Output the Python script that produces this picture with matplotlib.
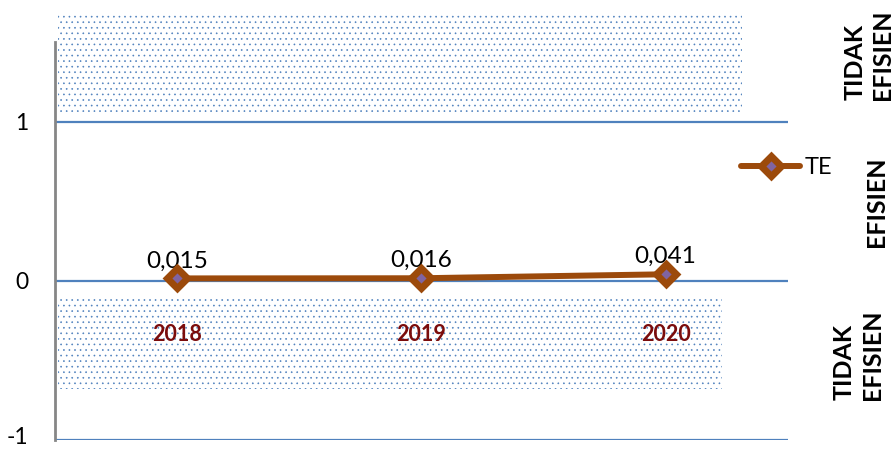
import matplotlib.pyplot as plt
from matplotlib.patches import Rectangle
from matplotlib.transforms import offset_copy

plt.rcParams['font.family'] = ['Lato', 'DejaVu Sans']
plt.rcParams['hatch.linewidth'] = 0.45

years = ['2018', '2019', '2020']
te = [0.015, 0.016, 0.041]
te_labels = ['0,015', '0,016', '0,041']
yticks = [-1, 0, 1]

xpos = [i + 0.5 for i in range(len(years))]

fig = plt.figure(figsize=(8.94, 4.5), dpi=100)
ax = fig.add_axes([0.0615, 0.0222, 0.8195, 0.8845])
ax.set_xlim(0, 3)
ax.set_ylim(-1, 1.5)

# dotted zones (tidak efisien)
blue = '#4F81BD'
ax.add_patch(Rectangle((0.012, 1.06), 2.80, 0.63, facecolor='none', edgecolor=blue,
                       hatch='...', lw=0, clip_on=False, zorder=1))
ax.add_patch(Rectangle((0.012, -0.68), 2.72, 0.573, facecolor='none', edgecolor=blue,
                       hatch='...', lw=0, clip_on=False, zorder=1))

for yv in yticks:
    ax.axhline(yv, color=blue, lw=1.6, zorder=2)

ax.plot(xpos, te, color='#9C4A0B', lw=4.3, marker='D', ms=10, mew=5,
        mec='#9C4A0B', mfc='#8064A2', label='TE', zorder=4, solid_capstyle='round')

for x, v, s in zip(xpos, te, te_labels):
    ax.annotate(s, (x, v), xytext=(0, 5), textcoords='offset points',
                ha='center', va='bottom', fontsize=17.5)

for x, yr in zip(xpos, years):
    ax.text(x, -0.34, yr, ha='center', va='center', fontsize=15.5,
            fontweight='bold', color='#7B0C0C')

ax.set_yticks(yticks)
ax.set_yticklabels([str(t) for t in yticks], fontsize=16.5)
ax.tick_params(axis='y', length=0, pad=19)
# keep the lowest label inside the figure
low = ax.get_yticklabels()[0]
low.set_transform(offset_copy(low.get_transform(), fig=fig, y=3, units='points'))
ax.set_xticks([])
for side in ['top', 'right', 'bottom']:
    ax.spines[side].set_visible(False)
ax.spines['left'].set_color('#868686')
ax.spines['left'].set_linewidth(2)

ax.legend(loc='center left', bbox_to_anchor=(0.829, 0.627),
          bbox_transform=fig.transFigure, frameon=False, fontsize=17,
          borderpad=0, borderaxespad=0, handlelength=2.5, handletextpad=0.2)

fig.text(0.972, 0.778, 'TIDAK\nEFISIEN', rotation=90, ha='center', va='bottom',
         fontsize=18, fontweight='bold', linespacing=1.25, multialignment='left')
fig.text(0.980, 0.551, 'EFISIEN', rotation=90, ha='center', va='center',
         fontsize=18, fontweight='bold')
fig.text(0.960, 0.111, 'TIDAK\nEFISIEN', rotation=90, ha='center', va='bottom',
         fontsize=18, fontweight='bold', linespacing=1.25, multialignment='left')

fig.savefig('out.png', dpi=100)
